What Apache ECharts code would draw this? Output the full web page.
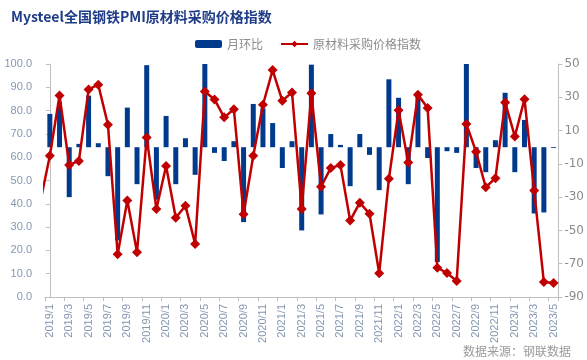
<!DOCTYPE html>
<html>
<head>
<meta charset="utf-8">
<script src="https://cdn.jsdelivr.net/npm/echarts@6/dist/echarts.min.js"></script>
<style>html,body{margin:0;padding:0;background:#fff;}#c{width:587px;height:360px;}</style>
</head>
<body>
<div id="c"></div>
<script>
const months = ['2019/1','2019/2','2019/3','2019/4','2019/5','2019/6','2019/7','2019/8','2019/9','2019/10','2019/11','2019/12',
'2020/1','2020/2','2020/3','2020/4','2020/5','2020/6','2020/7','2020/8','2020/9','2020/10','2020/11','2020/12',
'2021/1','2021/2','2021/3','2021/4','2021/5','2021/6','2021/7','2021/8','2021/9','2021/10','2021/11','2021/12',
'2022/1','2022/2','2022/3','2022/4','2022/5','2022/6','2022/7','2022/8','2022/9','2022/10','2022/11','2022/12',
'2023/1','2023/2','2023/3','2023/4','2023/5'];
// value of the month before the first category (2018/12), drawn off the left edge
const priceIndexPrev = 40.5;
const priceIndex = [60.6, 86.5, 56.7, 58.4, 89.1, 91.1, 73.9, 18.3, 41.4, 19.2, 68.5, 37.8,
56.2, 34.0, 39.2, 22.8, 88.2, 84.8, 77.1, 80.6, 35.5, 60.6, 82.5, 97.4,
84.2, 87.8, 37.8, 87.4, 47.3, 55.4, 56.6, 32.8, 40.5, 35.7, 10.2, 50.7,
80.1, 57.7, 86.8, 81.1, 12.6, 10.3, 6.9, 74.3, 62.3, 47.1, 51.0, 83.5,
68.9, 84.9, 45.7, 6.4, 6.0];
const momChange = [20.0, 27.0, -30.0, 2.0, 31.0, 2.4, -17.4, -56.0, 23.8, -22.2, 49.3, -31.5,
18.8, -22.2, 5.4, -16.6, 65.4, -3.4, -8.3, 3.6, -45.0, 26.0, 23.4, 14.5,
-12.5, 3.6, -50.0, 49.6, -40.4, 7.9, 1.4, -23.4, 7.9, -4.6, -25.8, 40.8,
29.7, -22.2, 32.0, -6.5, -69.0, -2.4, -3.4, 67.4, -12.5, -15.0, 4.2, 32.7,
-15.0, 16.4, -39.8, -39.2, -0.5];
const leftTicks = {min: 0, max: 100, interval: 10};
const rightTicks = {min: -90, max: 50, interval: 20};

const lineData = [[-1, priceIndexPrev]].concat(priceIndex.map((v, i) => [i, v]));

const chart = echarts.init(document.getElementById('c'), null, {renderer: 'canvas'});
const axisGray = '#bfbfbf';
const labelBlue = '#8497b0';
chart.setOption({
  animation: false,
  backgroundColor: '#fff',
  title: [{
    text: 'Mysteel全国钢铁PMI原材料采购价格指数',
    left: 6, top: 5,
    textStyle: {fontSize: 14, fontWeight: 'bold', color: '#1f3c88', fontFamily: 'Noto Sans CJK SC'}
  }, {
    text: '数据来源：钢联数据',
    right: 11, top: 340,
    textStyle: {fontSize: 12, fontWeight: 'normal', color: '#9a9a9a', fontFamily: 'Noto Sans CJK SC'}
  }],
  legend: {
    left: 190, top: 33,
    itemWidth: 27, itemHeight: 8, itemGap: 17,
    textStyle: {fontSize: 12, color: '#8c8c8c', fontFamily: 'Noto Sans CJK SC'},
    data: ['月环比', '原材料采购价格指数']
  },
  grid: {left: 45, right: 28, top: 64, bottom: 63, containLabel: false},
  xAxis: [{
    type: 'category',
    data: months,
    boundaryGap: true,
    axisLine: {lineStyle: {color: axisGray}},
    axisTick: {show: true, interval: 1, length: 4, lineStyle: {color: axisGray}},
    axisLabel: {interval: 1, rotate: 90, margin: 7, fontSize: 11, color: labelBlue, fontFamily: 'Liberation Sans'},
    splitLine: {show: false}
  }, {
    type: 'value',
    min: -0.5, max: months.length - 0.5,
    show: false,
    splitLine: {show: false}
  }],
  yAxis: [{
    type: 'value',
    position: 'left',
    min: leftTicks.min, max: leftTicks.max, interval: leftTicks.interval,
    axisLine: {show: true, lineStyle: {color: axisGray}},
    axisTick: {show: true, length: 4, lineStyle: {color: axisGray}},
    axisLabel: {formatter: v => v.toFixed(1), margin: 13, fontSize: 11, color: labelBlue, fontFamily: 'Liberation Sans'},
    splitLine: {show: false}
  }, {
    type: 'value',
    position: 'right',
    min: rightTicks.min, max: rightTicks.max, interval: rightTicks.interval,
    axisLine: {show: true, lineStyle: {color: axisGray}},
    axisTick: {show: true, length: 4, lineStyle: {color: axisGray}},
    axisLabel: {margin: 6, fontSize: 12, color: '#8c8c8c', fontFamily: 'DejaVu Sans'},
    splitLine: {show: false}
  }],
  series: [{
    name: '月环比',
    type: 'bar',
    xAxisIndex: 0, yAxisIndex: 1,
    data: momChange,
    barWidth: 5,
    clip: true,
    itemStyle: {color: '#003a8c'}
  }, {
    name: '原材料采购价格指数',
    type: 'line',
    xAxisIndex: 1, yAxisIndex: 0,
    data: lineData,
    clip: true,
    symbol: 'diamond',
    symbolSize: 10,
    lineStyle: {color: '#c00000', width: 2.5},
    itemStyle: {color: '#c00000'},
    z: 3
  }]
});
</script>
</body>
</html>
